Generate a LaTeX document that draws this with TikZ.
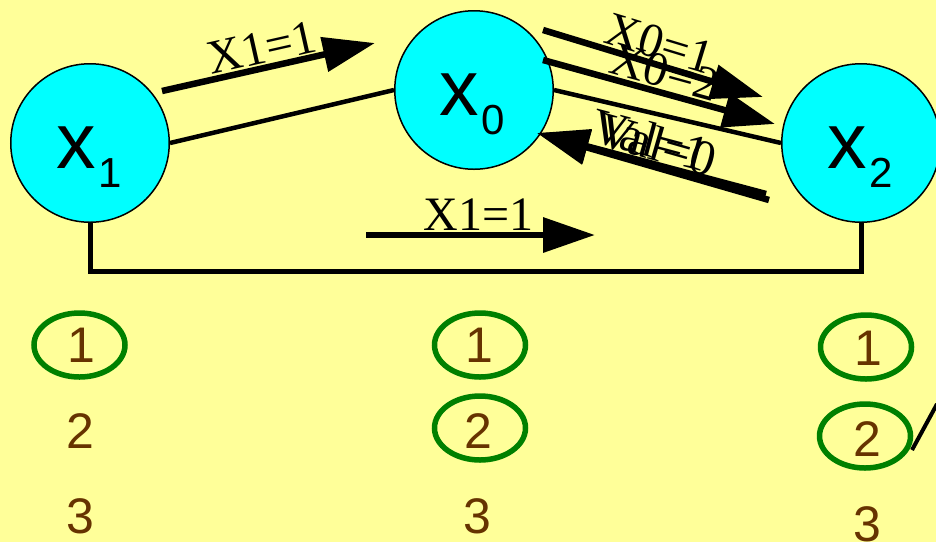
\documentclass[tikz,border=0pt]{standalone}
\usepackage{fontspec}
\setmainfont{Liberation Serif}
\newfontfamily\arialf{Liberation Sans}
\usetikzlibrary{arrows.meta,shapes.geometric}
\definecolor{bgyellow}{HTML}{FFFF99}
\definecolor{nodecyan}{HTML}{00FFFF}
\definecolor{ringgreen}{HTML}{008000}
\definecolor{numbrown}{HTML}{663300}
\newcommand{\statetext}[1]{{\fontsize{79}{79}\selectfont x}\hspace{3pt}{\fontsize{42}{42}\selectfont\raisebox{-19pt}{#1}}}
\begin{document}
\begin{tikzpicture}[x=1pt,y=-1pt,
  state/.style={circle, draw, line width=1.5pt, fill=nodecyan, minimum size=158.5pt, inner sep=0},
  statelabel/.style={anchor=base west, inner sep=0, font=\arialf},
  conn/.style={line width=4.5pt},
  msg/.style={line width=6.5pt, -{Triangle[length=52pt,width=34pt]}},
  revmsg/.style={line width=6.5pt, {Triangle[length=52pt,width=34pt]}-},
  msglabel/.style={font=\fontsize{48}{48}\selectfont, sloped, above, inner sep=1.5pt},
  vallabel/.style={font=\fontsize{50}{50}\selectfont, sloped, above, inner sep=1.5pt},
  num/.style={font=\arialf\fontsize{50}{50}\selectfont, text=numbrown, inner sep=0},
  ring/.style={ellipse, draw=ringgreen, line width=5.5pt, minimum width=91pt, minimum height=64pt, inner sep=0}
]
\fill[bgyellow] (0,0) rectangle (936,542);
\useasboundingbox (0,0) rectangle (936,542);

% states
\node[state] (x1) at (90,143) {};
\node[state] (x0) at (474,90) {};
\node[state] (x2) at (861,143) {};
\node[statelabel] (x1t) at (56,168) {\statetext{1}};
\node[statelabel] (x0t) at (439,115) {\statetext{0}};
\node[statelabel] (x2t) at (827,168) {\statetext{2}};

% channels
\draw[conn] (x1.east) -- (x0.west);
\draw[conn] (x0.east) -- (x2.west);
\draw[line width=5pt] (x1.south) -- ++(0,48) -| (x2.south);

% messages
\coordinate (u1s) at (162,91);
\coordinate (u1e) at (375,43);
\coordinate (as) at (543,30);
\coordinate (ae) at (763,97);
\coordinate (bs) at (543,60);
\coordinate (be) at (775,124);
\coordinate (vtip) at (537,133);
\coordinate (v1t) at (766,194);
\coordinate (v2t) at (769,200);
\coordinate (ls) at (366,235);
\coordinate (le) at (595,235);

\draw[msg] (u1s) -- (u1e) node[msglabel, pos=0.49] (lu1) {X1=1};
\draw[msg] (as) -- (ae) node[msglabel, pos=0.5] (la) {X0=1};
\draw[msg] (bs) -- (be) node[msglabel, pos=0.5] (lb) {X0=2};
\draw[revmsg] (vtip) -- (v1t) node[vallabel, pos=0.47] (lv1) {Val=1};
\draw[revmsg] (vtip) -- (v2t) node[vallabel, pos=0.495] (lv2) {Val=0};
\draw[msg] (ls) -- (le) node[msglabel, pos=0.49] (ll) {X1=1};

% columns of numbers
\node[num] (a1) at (81,345) {1};
\node[num] (a2) at (80,431) {2};
\node[num] (a3) at (80,516) {3};
\node[num] (b1) at (479,345) {1};
\node[num] (b2) at (478,431) {2};
\node[num] (b3) at (477,516) {3};
\node[num] (c1) at (868,348) {1};
\node[num] (c2) at (867,439) {2};
\node[num] (c3) at (867,524) {3};

\node[ring] (ra1) at (79.5,345) {};
\node[ring] (rb1) at (480,345) {};
\node[ring] (rb2) at (480,428) {};
\node[ring] (rc1) at (866,347) {};
\node[ring] (rc2) at (865,436) {};

\coordinate (t1) at (912,450);
\coordinate (t2) at (937,404);
\draw[line width=4pt] (t1) -- (t2);
\end{tikzpicture}
\end{document}
